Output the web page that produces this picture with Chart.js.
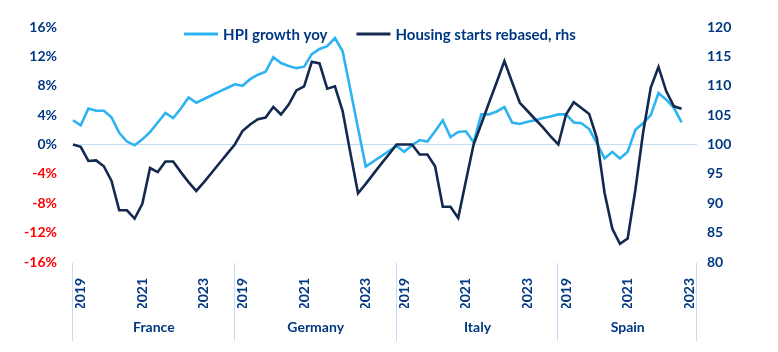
<!DOCTYPE html>
<html>
<head>
<meta charset="utf-8">
<script src="https://cdn.jsdelivr.net/npm/chart.js@4.4.0/dist/chart.umd.min.js"></script>
<style>
  html,body{margin:0;padding:0;background:#fff;}
  #wrap{width:778px;height:352px;position:relative;}
</style>
</head>
<body>
<div id="wrap"><canvas id="chart"></canvas></div>
<script>
// quarterly categories per country panel (Spain axis stops at 2023Q2)
const countries=["France","Germany","Italy","Spain"];
const quarters=["2018Q4","2019Q1","2019Q2","2019Q3","2019Q4","2020Q1","2020Q2","2020Q3","2020Q4",
  "2021Q1","2021Q2","2021Q3","2021Q4","2022Q1","2022Q2","2022Q3","2022Q4","2023Q1","2023Q2","2023Q3","2023Q4"];
const spainQuarters=quarters.slice(0,19);
const yearTicks=["2019","2021","2023"];

// HPI growth yoy, % (left axis)
const hpiFrance=[3.3,2.6,4.9,4.6,4.6,3.7,1.6,0.4,-0.1,0.7,1.7,3.0,4.3,3.6,4.9,6.4,5.7,6.2,6.7,7.2,7.7];
const hpiGermany=[8.2,8.0,8.9,9.5,9.9,11.9,11.1,10.7,10.4,10.6,12.3,13.0,13.4,14.5,12.7,7.5,2.2,-3.0,-2.3,-1.6,-0.9];
const hpiItaly=[-0.2,-1.0,-0.1,0.6,0.4,1.8,3.3,1.0,1.7,1.8,0.3,4.1,4.1,4.5,5.1,3.0,2.8,3.1,3.3,3.6,3.8];
const hpiSpain=[4.1,4.1,3.0,2.9,2.1,0.2,-1.9,-1.0,-1.9,-1.0,2.0,2.9,4.0,7.0,6.1,5.0,3.0];

// Housing starts rebased (right axis)
const startsFrance=[100,99.6,97.2,97.3,96.3,93.8,88.8,88.8,87.4,89.9,96.0,95.3,97.1,97.1,95.3,93.6,92.1,93.6,95.2,96.8,98.4];
const startsGermany=[100,102.3,103.4,104.3,104.6,106.4,105.1,106.8,109.2,109.9,114.1,113.8,109.5,109.9,105.7,98.6,91.7,93.3,95.0,96.7,98.3];
const startsItaly=[100,100,100,98.3,98.3,96.3,89.4,89.4,87.5,93.8,100,103.5,107.1,110.6,114.2,110.6,107.1,105.7,104.3,102.9,101.4];
const startsSpain=[100,105.1,107.2,106.2,105.2,101.1,91.8,85.7,83.1,84.0,92.3,102.0,109.7,113.2,109.1,106.5,106.1];

const leftRange=[-16,16,4];
const rightRange=[80,120,5];

const navy="#003781", lightBlue="#2db3f1", darkBlue="#13294f", red="#ff0000", rule="#c3dcf3";
const tickFont={family:"Lato",size:14,weight:"bold"};

const labels=[...quarters,...quarters,...quarters,...spainQuarters];
const panelStarts=[0,quarters.length,quarters.length*2,quarters.length*3,labels.length-1];
const panelCenters=countries.map((c,i)=>(panelStarts[i]+panelStarts[i+1])/2);

const separators={
  id:"separators",
  afterDraw(chart){
    const ctx=chart.ctx, x=chart.scales.x;
    ctx.save();
    ctx.strokeStyle=rule; ctx.lineWidth=1;
    panelStarts.forEach(i=>{
      const px=Math.round(x.getPixelForValue(i))-0.5;
      ctx.beginPath(); ctx.moveTo(px,chart.chartArea.bottom+1); ctx.lineTo(px,341); ctx.stroke();
    });
    ctx.restore();
  }
};

const topLegend={
  id:"topLegend",
  afterDraw(chart){
    const ctx=chart.ctx, sets=chart.data.datasets;
    ctx.save();
    ctx.font="bold 15px Lato";
    const sample=34, gap=5, space=29;
    const widths=sets.map(d=>sample+gap+ctx.measureText(d.label).width);
    const total=widths.reduce((a,b)=>a+b,0)+space*(sets.length-1);
    let x=(chart.chartArea.left+chart.chartArea.right)/2-total/2-5;
    const y=34;
    sets.forEach((d,i)=>{
      ctx.strokeStyle=d.borderColor; ctx.lineWidth=3;
      ctx.beginPath(); ctx.moveTo(x,y); ctx.lineTo(x+sample,y); ctx.stroke();
      ctx.fillStyle=navy; ctx.textBaseline="middle"; ctx.textAlign="left";
      ctx.fillText(d.label,x+sample+gap,y+1);
      x+=widths[i]+space;
    });
    ctx.restore();
  }
};

new Chart(document.getElementById("chart"),{
  type:"line",
  data:{
    labels:labels,
    datasets:[
      {label:"HPI growth yoy",data:[...hpiFrance,...hpiGermany,...hpiItaly,...hpiSpain],
       borderColor:lightBlue,backgroundColor:lightBlue,borderWidth:2.6,pointRadius:0,tension:0,yAxisID:"y",order:2},
      {label:"Housing starts rebased, rhs",data:[...startsFrance,...startsGermany,...startsItaly,...startsSpain],
       borderColor:darkBlue,backgroundColor:darkBlue,borderWidth:2.6,pointRadius:0,tension:0,yAxisID:"y1",order:1}
    ]
  },
  options:{
    responsive:true,maintainAspectRatio:false,animation:false,
    layout:{padding:{top:27,left:0,right:0,bottom:0}},
    plugins:{legend:{display:false},tooltip:{enabled:false}},
    scales:{
      x:{
        type:"category",offset:false,weight:0,
        grid:{display:false},border:{display:false},
        ticks:{autoSkip:false,minRotation:90,maxRotation:90,padding:8,color:navy,font:tickFont,
          callback(v){
            const q=this.getLabelForValue(v);
            return q.endsWith("Q1")&&yearTicks.includes(q.slice(0,4))?q.slice(0,4):"";
          }},
        afterFit(s){s.height=46;}
      },
      x2:{
        type:"linear",axis:"x",position:"bottom",weight:1,min:0,max:labels.length-1,
        grid:{display:false},border:{display:false},
        afterBuildTicks(s){s.ticks=panelCenters.map(v=>({value:v}));},
        ticks:{autoSkip:false,maxRotation:0,padding:3,color:navy,font:tickFont,
          callback:(v,i)=>countries[i]},
        afterFit(s){s.height=44;}
      },
      y:{
        position:"left",min:leftRange[0],max:leftRange[1],
        border:{display:false},
        grid:{drawTicks:false,color:c=>c.tick&&c.tick.value===0?rule:"transparent",lineWidth:1},
        ticks:{stepSize:leftRange[2],padding:16,font:tickFont,
          color:c=>c.tick.value<0?red:navy,
          callback:v=>v+"%"},
        afterFit(s){s.width=73;}
      },
      y1:{
        position:"right",min:rightRange[0],max:rightRange[1],
        border:{display:false},grid:{display:false,drawTicks:false},
        ticks:{stepSize:rightRange[2],padding:10,color:navy,font:tickFont},
        afterFit(s){s.width=81;}
      }
    }
  },
  plugins:[separators,topLegend]
});
</script>
</body>
</html>
